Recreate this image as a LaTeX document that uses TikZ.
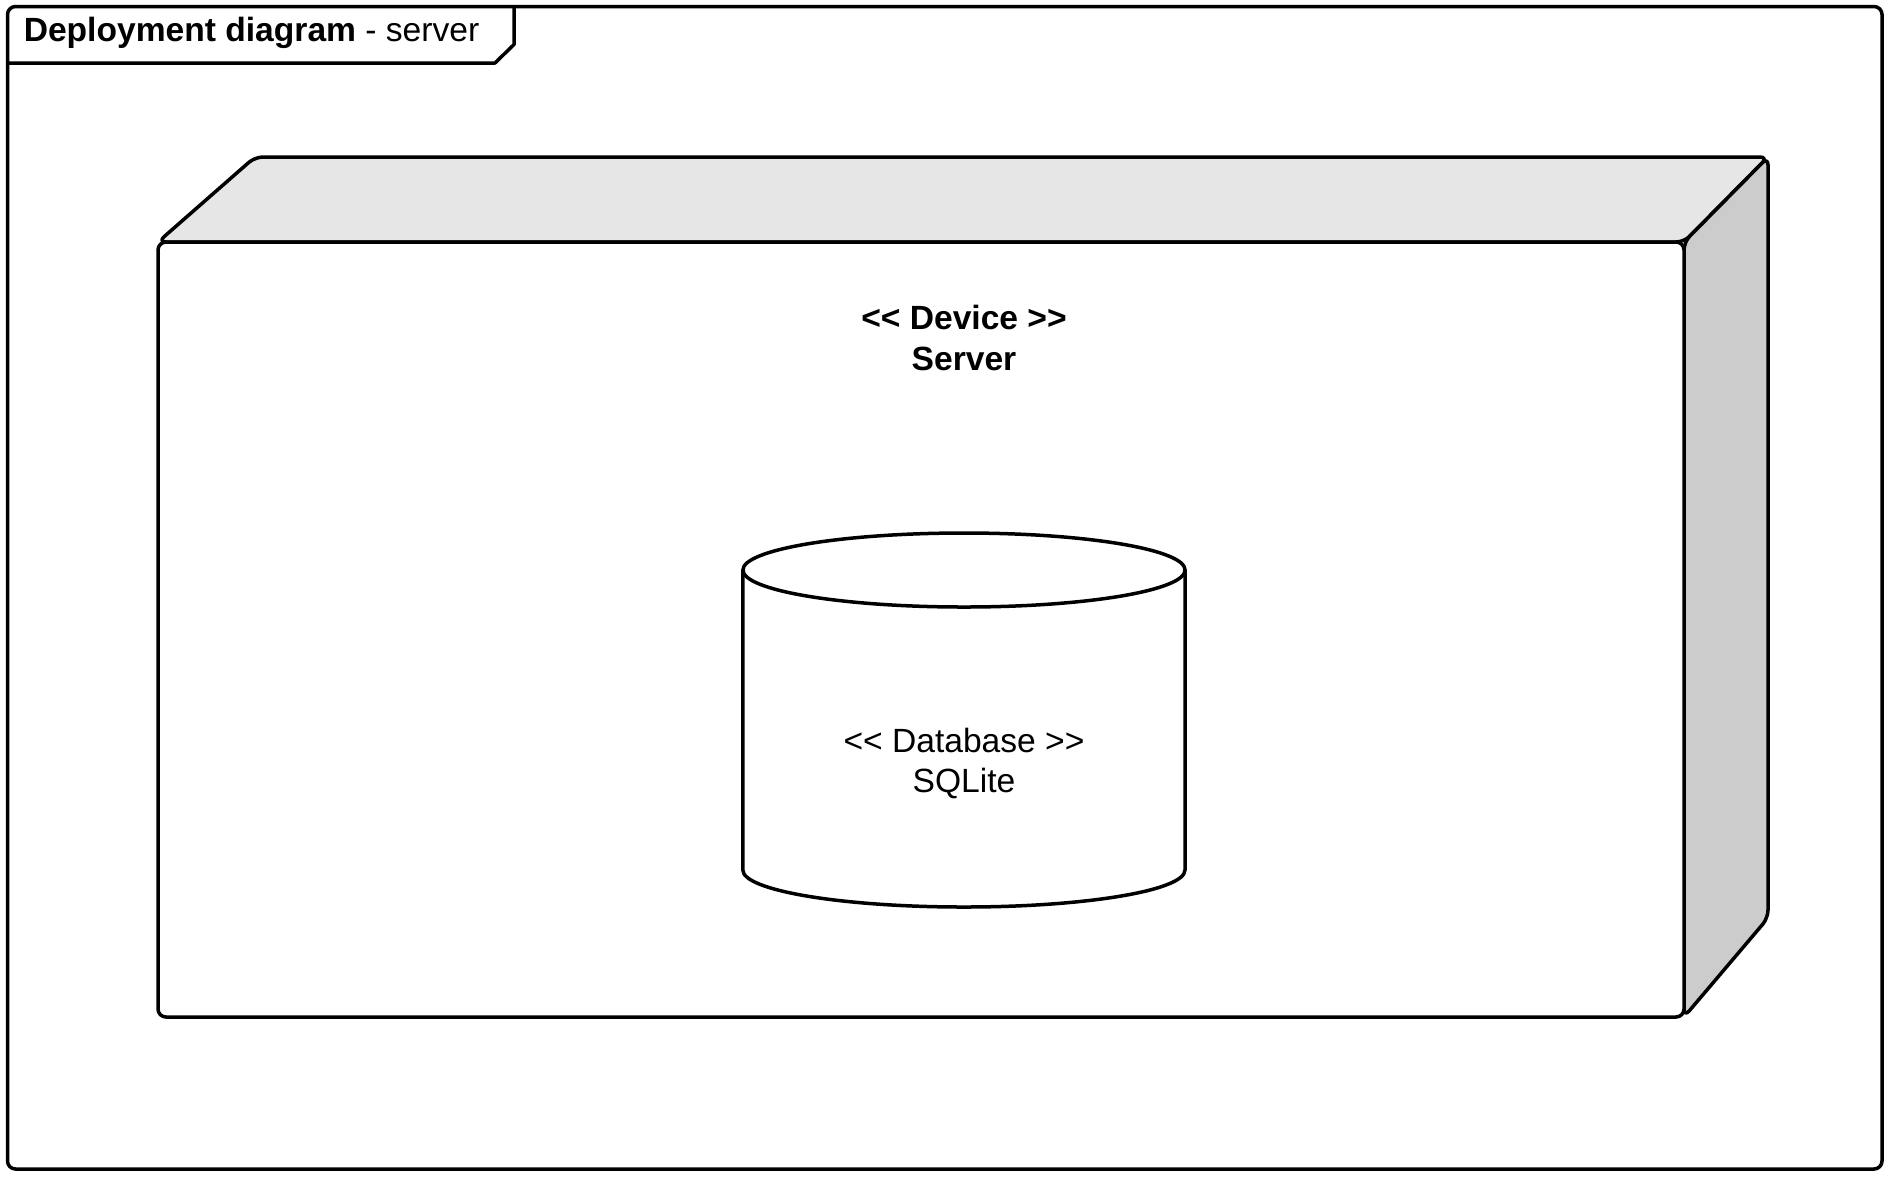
\documentclass[tikz,border=0pt]{standalone}
\usepackage{fontspec}
\setmainfont{Liberation Sans}[Ligatures=TeXOff]
\definecolor{topgray}{HTML}{E6E6E6}
\definecolor{sidegray}{HTML}{CCCCCC}
\begin{document}
\begin{tikzpicture}[x=0.5pt,y=-0.5pt, line width=1.75pt, line join=round,
  txt/.style={align=center, inner sep=0pt},
  face/.style={draw, rounded corners=4pt}]
\useasboundingbox (0,0) rectangle (1894,1180);
% frame
\draw[rounded corners=4pt] (7.5,6.5) rectangle (1882,1169);
\draw (7.5,63) -- (495,63) -- (514,44.5) -- (514,6.5);
\node[anchor=base west, inner sep=0pt, font=\fontsize{16.8}{20}\selectfont] (title) at (22,41.5) {\textbf{Deployment diagram} - server};
% device node
\path[face, fill=topgray] (158,242) -- (255,157) -- (1768,157) -- (1684,242) -- cycle;
\path[face, fill=sidegray] (1684,242) -- (1768,157) -- (1768,918) -- (1684,1017) -- cycle;
\path[face, fill=white] (158,242) rectangle (1684,1017);
\node[txt, font=\bfseries\fontsize{16.8}{20.5}\selectfont] (server) at (964,337.5) {<\kern0pt< Device >\kern0pt>\\Server};
% database
\draw[fill=white] (742.8,570) -- (742.8,870) arc[start angle=180,end angle=0,x radius=221.1,y radius=37] -- (1185,570);
\draw[fill=white] (964,570) ellipse[x radius=221.1, y radius=37];
\node[txt, font=\fontsize{16.8}{20}\selectfont] (db) at (964,763.2) {<\kern0pt< Database >\kern0pt>\\SQLite};
\end{tikzpicture}
\end{document}
